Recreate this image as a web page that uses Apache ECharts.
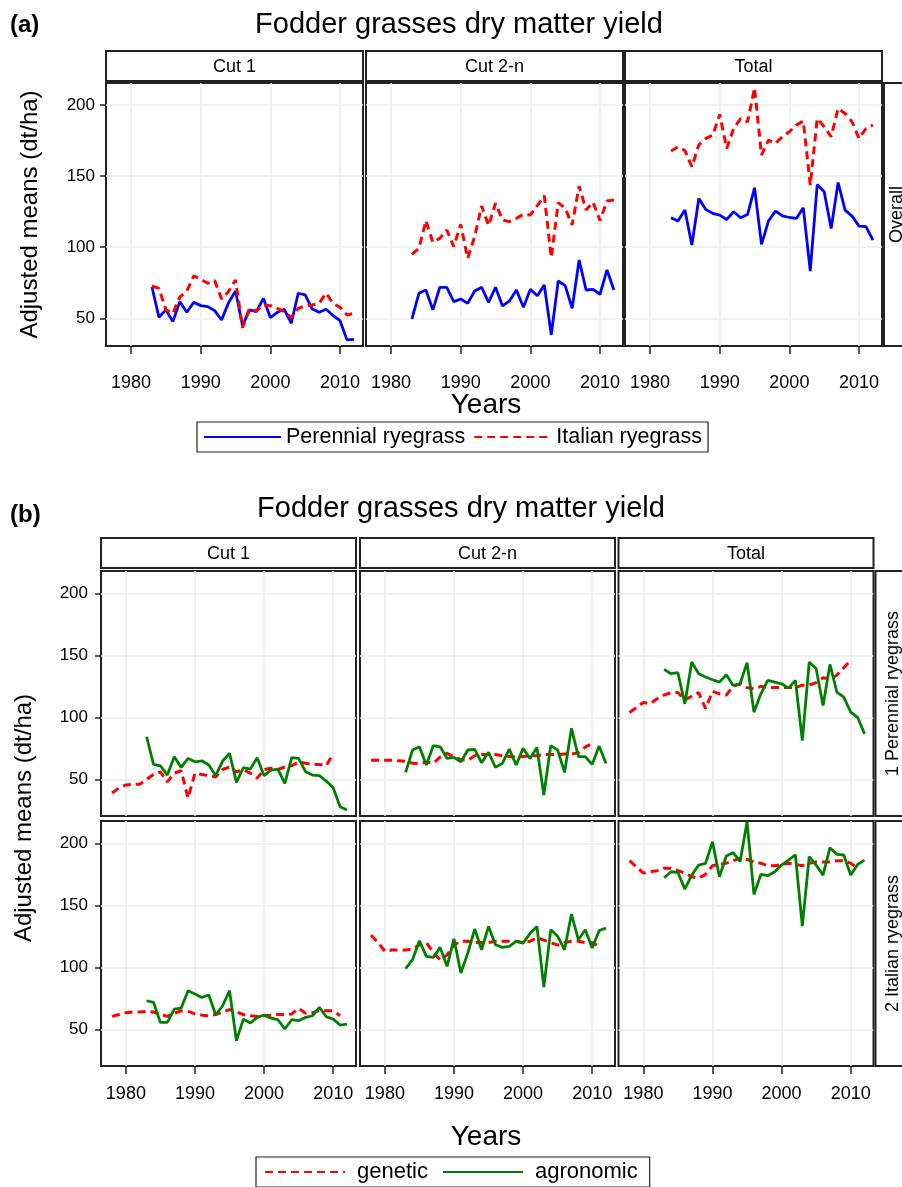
<!DOCTYPE html>
<html><head><meta charset="utf-8">
<script src="https://cdn.jsdelivr.net/npm/echarts@6/dist/echarts.min.js"></script>
<style>html,body{margin:0;padding:0;background:#fff}#c{width:902px;height:1187px}</style>
</head><body><div id="c"></div>
<script>
// ---------- data ----------
const yearsObs = [1983,1984,1985,1986,1987,1988,1989,1990,1991,1992,1993,1994,1995,1996,1997,1998,1999,2000,2001,2002,2003,2004,2005,2006,2007,2008,2009,2010,2011,2012];
const yearsGenPer = [1978,1979,1980,1981,1982,1983,1984,1985,1986,1987,1988,1989,1990,1991,1992,1993,1994,1995,1996,1997,1998,1999,2000,2001,2002,2003,2004,2005,2006,2007,2008,2009,2010];
const yearsGenIta = [1978,1979,1980,1981,1982,1983,1984,1985,1986,1987,1988,1989,1990,1991,1992,1993,1994,1995,1996,1997,1998,1999,2000,2001,2002,2003,2004,2005,2006,2007,2008,2009,2010,2011];
const xTicks = [1980,1990,2000,2010];
const yTicks = [50,100,150,200];
const facetNames = ['Cut 1','Cut 2-n','Total'];
const rowNamesB = ['1 Perennial ryegrass','2 Italian ryegrass'];

// (a) overall
const perCut1 = [72,50.7,55.9,47.7,61.7,54.2,61.3,58.9,58.2,55.4,48.8,61,69.2,44.8,55.9,54.7,64,50.5,54.2,56.3,46.5,67.6,66.4,56.6,54.2,56.3,51.9,48.4,34.8,35.2];
const itaCut1 = [72.7,71,56,53.5,65,69,79.8,77.5,74.6,76.5,63.6,68.8,77,43.4,57,55.2,59.4,58.9,57,54.7,50.5,57,58.7,59.4,60.5,67.6,60.5,57.7,52.3,53.5];
const perCut2 = [49.5,67.6,69.9,55.9,71.8,71.8,61.7,63.6,60.5,69.2,71.8,61.2,71.8,58.7,62.2,69.9,57.7,70.4,65.9,73.4,38.3,76.2,73,57,91,69.9,70.4,66.9,84,69.9];
const itaCut2 = [95,99.2,118.7,103.4,106.2,112.1,100.4,116.1,92.2,107.4,129,115.2,130.9,119.1,118,120.3,123.1,122.7,129.2,136.2,92.7,131.3,127.3,115.6,143,126.2,131.6,118.7,132.5,133.2];
const perTot = [120.7,118.4,126.1,101.5,134.3,126.6,123.8,122.6,119.5,124.9,120.7,123,141.8,102,118.4,125.4,122.1,120.9,120.2,127.7,83.2,144.1,139,113.2,145.5,126.1,121.9,114.8,114.4,105];
const itaTot = [167.6,170.6,168,156.6,172,176.5,178.8,193.4,169.5,183.5,190.5,188.2,212.1,164.8,175.3,173,177.7,181.2,185.9,188.7,143.7,190.5,184.7,177.7,197.6,194.1,188.2,176.5,183.5,185.9];

// (b) perennial
const agrPerCut1 = [84.4,62.1,61,53.5,68.3,59.7,66.9,64.2,65,61.6,53,64.8,71,47.6,59.4,58.3,67.5,53,57.5,58.3,46.8,67.5,66.9,56.2,53.5,53,48.7,43.3,28,25.3];
const genPerCut1 = [39,43,45.5,46,46,50,54,56,48,55,57,35,55,54,53,52,58,60,56,58,55,51,58,59,58,60,61,64,63,62,62,61,71];
const agrPerCut2 = [55.6,73.7,76.3,61.6,77.2,76.3,66.9,67.7,64.2,73.7,74.2,63.4,71.8,59.7,62.9,74.5,61.6,75,66.9,75.8,37.4,77.2,73.7,55.6,91.1,68.3,68.3,62.1,76.9,62.9];
const genPerCut2 = [65.5,65.5,65.5,65.5,65,64.5,63,62.5,64,63,68,71,68,66,65.5,69,70,70,70,69,68.5,68,68.5,69,69,70,70,70,70.5,70.5,71.5,76,79];
const agrPerTot = [138.7,135.2,136,110.9,144.6,135.2,132.5,130.3,128.4,134.4,125.7,127.1,144.1,104.2,119,129.8,128.4,127.1,123.6,129.8,81.3,144.6,139.2,109.6,142.7,120.4,116.3,104.2,100.1,86.7];
const genPerTot = [104,108,112,111,115,118,120,120,114,117,120,107,121,119,118,125,127,124,123,125,124,124,124,124,124,126,126,128,132,131,134,140,146];
// (b) italian
const agrItaCut1 = [73.1,71.8,55.6,55.6,66.4,67.2,81.2,78.5,75.8,77.7,61.6,69.1,81.2,40.9,58.3,55.1,59.7,61.6,59.1,57.8,50.3,57.8,57,59.7,61,67.7,60.2,58.3,53.5,54.3];
const genItaCut1 = [60.5,62,63.5,64,64,64.5,64,62,60.5,63,65,64.5,62.5,61.5,61,62,64,66,64,62,61,60.5,61,61.5,62,62,62.5,67,63,63.5,65,65,65,61];
const agrItaCut2 = [98.9,106.2,121.5,108.9,108,116.1,100.8,123.1,95.4,111.6,130.9,114.2,133,118.3,116.1,116.9,121,119.6,127.2,133,84.1,130.4,125,114.2,143,122.3,130.4,115.6,129.6,131.7];
const genItaCut2 = [126,120,113,114,114,114,115,118,120,112,106,110,118,121,121,120,120,120,121,121,121,121,120,121,124,122,120,118,120,121,121,120,120,117];
const agrItaTot = [172.2,177.1,176.5,163.1,174.4,182.5,183.8,201.3,173,189.8,192.5,185.2,217.5,158.8,174.9,173.9,177.1,182.5,186.5,190.6,133.2,189.2,182.5,174.4,196.5,191.1,190.6,174.4,183,186.5];
const genItaTot = [186,181,176,177,178,180,180,178,176,173,172,175,182,183,184,186,188,187,185,184,182,182,183,184,183,182,184,185,185,185,186,186,184,180];

// ---------- layout ----------
const FONT = '"Liberation Sans", Arial, Helvetica, sans-serif';
const BLUE = '#0000ff', RED = '#ff0000', GREEN = '#008000';
const A_LEFT = [106, 366, 625], A_W = 257, A_TOP = 83, A_H = 263;
const B_LEFT = [101, 360, 618.5], B_W = 255, B_TOP = [571, 821], B_H = 245;
const X_MIN = 1976.4, X_MAX = 2013.3;

function zip(xs, ys) { return ys.map((v, i) => [xs[i], v]); }

const grids = [], xAxes = [], yAxes = [], series = [];

function addPanel(left, top, w, h, ymin, ymax, showX, xMargin, showY, yMargin) {
  const gi = grids.length;
  grids.push({ left: left, top: top, width: w, height: h, show: true, borderColor: '#222', borderWidth: 2, backgroundColor: 'transparent', containLabel: false });
  xAxes.push({
    type: 'value', gridIndex: gi, min: X_MIN, max: X_MAX,
    axisLine: { show: false },
    axisTick: { show: showX, customValues: xTicks, length: 8, lineStyle: { color: '#222', width: 1.5 } },
    axisLabel: { show: showX, customValues: xTicks, margin: xMargin, fontSize: 18, color: '#000', fontFamily: FONT, formatter: v => String(v) },
    splitLine: { show: true, lineStyle: { color: '#ebebeb', width: 1.5 } }
  });
  yAxes.push({
    type: 'value', gridIndex: gi, min: ymin, max: ymax,
    axisLine: { show: false },
    axisTick: { show: showY, customValues: yTicks, length: 6, lineStyle: { color: '#222', width: 1.5 } },
    axisLabel: { show: showY, customValues: yTicks, margin: yMargin, fontSize: 17, color: '#000', fontFamily: FONT, formatter: v => String(v) },
    splitLine: { show: true, lineStyle: { color: '#ebebeb', width: 1.5 } }
  });
  return gi;
}

function line(gi, name, xs, ys, color, dashed) {
  series.push({
    type: 'line', name: name, xAxisIndex: gi, yAxisIndex: gi,
    data: zip(xs, ys), symbol: 'none', showSymbol: false, silent: true,
    lineStyle: { color: color, width: dashed ? 3 : 2.8, type: dashed ? [8, 5] : 'solid' },
    itemStyle: { color: color }
  });
}

// panel (a)
const aData = [[perCut1, itaCut1], [perCut2, itaCut2], [perTot, itaTot]];
for (let c = 0; c < 3; c++) {
  const gi = addPanel(A_LEFT[c], A_TOP, A_W, A_H, 30.5, 215.5, true, 28, c === 0, 11);
  line(gi, 'Perennial ryegrass', yearsObs, aData[c][0], BLUE, false);
  line(gi, 'Italian ryegrass', yearsObs, aData[c][1], RED, true);
}
// panel (b)
const bData = [
  [[genPerCut1, agrPerCut1], [genPerCut2, agrPerCut2], [genPerTot, agrPerTot]],
  [[genItaCut1, agrItaCut1], [genItaCut2, agrItaCut2], [genItaTot, agrItaTot]]
];
const bGenYears = [yearsGenPer, yearsGenIta];
for (let r = 0; r < 2; r++) {
  for (let c = 0; c < 3; c++) {
    const gi = addPanel(B_LEFT[c], B_TOP[r], B_W, B_H, 20.5, 218, r === 1, 19, c === 0, 13);
    line(gi, 'genetic', bGenYears[r], bData[r][c][0], RED, true);
    line(gi, 'agronomic', yearsObs, bData[r][c][1], GREEN, false);
  }
}

// ---------- decorations ----------
const graphics = [];
function txt(text, x, y, size, opts) {
  opts = opts || {};
  graphics.push({
    type: 'text', x: x, y: y, rotation: opts.rot || 0, z: 100,
    style: { text: text, fontSize: size, fontFamily: FONT, fontWeight: opts.bold ? 'bold' : 'normal',
      fill: '#000', textAlign: opts.align || 'center', textVerticalAlign: 'middle' }
  });
}
function box(x, y, w, h) {
  graphics.push({ type: 'rect', z: 90, shape: { x: x, y: y, width: w, height: h },
    style: { fill: '#fff', stroke: '#222', lineWidth: 2 } });
}
// panel (a) strips
for (let c = 0; c < 3; c++) {
  box(A_LEFT[c], 51, A_W, 30);
  txt(facetNames[c], A_LEFT[c] + A_W / 2, 67, 18);
}
box(884, A_TOP, 30, A_H);
txt('Overall', 897, A_TOP + A_H / 2, 18, { rot: Math.PI / 2 });
// panel (b) strips
for (let c = 0; c < 3; c++) {
  box(B_LEFT[c], 538, B_W, 30);
  txt(facetNames[c], B_LEFT[c] + B_W / 2, 554, 18);
}
for (let r = 0; r < 2; r++) {
  box(875.5, B_TOP[r], 35, B_H);
  txt(rowNamesB[r], 893, B_TOP[r] + B_H / 2, 18, { rot: Math.PI / 2 });
}
// titles and labels
txt('(a)', 10, 25, 24, { bold: true, align: 'left' });
txt('Fodder grasses dry matter yield', 459, 25, 29);
txt('Adjusted means (dt/ha)', 30, A_TOP + A_H / 2, 24, { rot: Math.PI / 2 });
txt('Years', 486, 405, 28);
txt('(b)', 10, 515, 24, { bold: true, align: 'left' });
txt('Fodder grasses dry matter yield', 461, 509, 29);
txt('Adjusted means (dt/ha)', 24, 818, 24, { rot: Math.PI / 2 });
txt('Years', 486, 1137, 28);

const hiddenSymbol = { color: 'rgba(0,0,0,0)', borderColor: 'rgba(0,0,0,0)', borderWidth: 0, opacity: 0 };
const option = {
  animation: false,
  backgroundColor: '#fff',
  grid: grids, xAxis: xAxes, yAxis: yAxes, series: series,
  legend: [
    { data: ['Perennial ryegrass', 'Italian ryegrass'], left: 197, top: 422, orient: 'horizontal',
      itemWidth: 77, itemHeight: 14, itemGap: 8, padding: [4, 6, 4, 6],
      borderColor: '#222', borderWidth: 1.2, selectedMode: false,
      itemStyle: hiddenSymbol,
      textStyle: { fontSize: 21.5, color: '#000', fontFamily: FONT } },
    { data: ['genetic', 'agronomic'], left: 256, top: 1157, orient: 'horizontal',
      itemWidth: 80, itemHeight: 14, itemGap: 14, padding: [4, 12, 4, 8],
      borderColor: '#222', borderWidth: 1.2, selectedMode: false,
      itemStyle: hiddenSymbol,
      textStyle: { fontSize: 22, color: '#000', fontFamily: FONT, padding: [0, 0, 0, 7] } }
  ],
  graphic: graphics
};
const chart = echarts.init(document.getElementById('c'), null, { renderer: 'canvas' });
chart.setOption(option);
</script></body></html>
